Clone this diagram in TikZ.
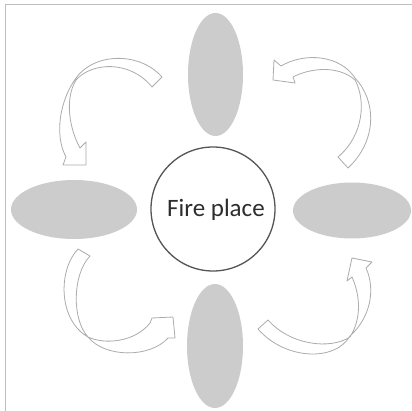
\documentclass[tikz,border=0pt]{standalone}
\usepackage{fontspec}
\setmainfont{Carlito}
\usetikzlibrary{shapes.geometric}
\definecolor{blobgray}{RGB}{204,204,204}
\definecolor{arrowgray}{RGB}{172,172,172}
\definecolor{framegray}{RGB}{190,190,190}
\definecolor{ringgray}{RGB}{85,85,85}
\definecolor{textgray}{RGB}{45,45,45}
\tikzset{
  blob/.style={ellipse, fill=blobgray, draw=none, inner sep=0pt},
  ring/.style={circle, draw=ringgray, line width=1.3pt, fill=white, inner sep=0pt, minimum size=124pt},
  bentarrow/.style={draw=arrowgray, fill=white, line width=0.8pt, line join=round},
  frameline/.style={draw=framegray, line width=1pt}
}
\begin{document}
\begin{tikzpicture}[x=1pt,y=-1pt]
\useasboundingbox (0,0) rectangle (412,411);
\fill[white] (0,0) rectangle (412,411);
\coordinate (fa) at (5,411);
\coordinate (fb) at (5,5);
\coordinate (fc) at (412,5);
\draw[frameline] (fa) -- (fb) -- (fc);

% ellipses
\node[blob, minimum width=55pt, minimum height=123pt] (top) at (215.5,74.5) {};
\node[blob, minimum width=56pt, minimum height=124pt] (bottom) at (215,346) {};
\node[blob, minimum width=126pt, minimum height=59pt] (left) at (74,209.5) {};
\node[blob, minimum width=118pt, minimum height=56pt] (right) at (352,210.5) {};

% centre
\node[ring] (fire) at (213,209) {};
\node[font=\fontsize{25}{28}\selectfont, text=textgray] (firetext) at (216,210) {Fire place};

% top-left arrow
\draw[bentarrow] (162,77) .. controls (140,52) and (95,52) .. (76,78)
  .. controls (60,100) and (54,135) .. (66,157) -- (63,165) -- (86,165) -- (86,142) -- (80,148)
  .. controls (70,130) and (64,100) .. (76,80)
  .. controls (92,62) and (130,60) .. (152,87) -- cycle;

% top-right arrow
\draw[bentarrow] (348,168) .. controls (378,140) and (376,100) .. (355,78)
  .. controls (340,55) and (305,52) .. (281,66) -- (274,60) -- (273,80) -- (295,83) -- (293,77)
  .. controls (310,68) and (338,65) .. (355,80)
  .. controls (366,100) and (364,135) .. (338,157) -- cycle;

% bottom-right arrow
\draw[bentarrow] (258,329) .. controls (285,360) and (335,362) .. (350,336)
  .. controls (370,318) and (376,290) .. (366,268) -- (372,262) -- (352,258) -- (347,281) -- (352,277)
  .. controls (360,295) and (362,318) .. (350,337)
  .. controls (330,350) and (290,345) .. (268,320) -- cycle;

% bottom-left arrow
\draw[bentarrow] (78,249) .. controls (58,270) and (58,320) .. (88,337)
  .. controls (105,358) and (150,358) .. (168,338) -- (175,338) -- (173,317) -- (152,318) -- (150,323)
  .. controls (135,342) and (105,345) .. (88,337)
  .. controls (72,320) and (72,275) .. (90,256) -- cycle;
\end{tikzpicture}
\end{document}
